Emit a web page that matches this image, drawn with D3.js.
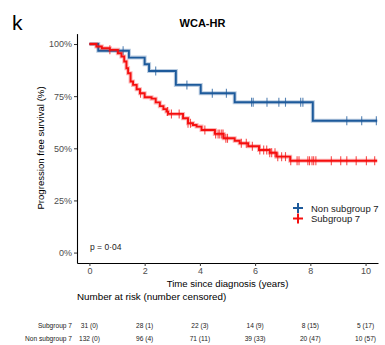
<!DOCTYPE html>
<html>
<head>
<meta charset="utf-8">
<script src="https://cdn.jsdelivr.net/npm/d3@7"></script>
<style>
  body { margin: 0; background: #fff; }
  svg { font-family: "Liberation Sans", Arial, sans-serif; }
</style>
</head>
<body>
<div id="chart"></div>
<script>
// Kaplan-Meier curves (time in years, survival fraction)
const nonSubTimes = [0, 0.32, 1.43, 2.0, 2.16, 3.13, 4.03, 5.26, 8.09];
const nonSubSurv  = [1, 0.968, 0.935, 0.903, 0.871, 0.804, 0.764, 0.721, 0.632];
const nonSubCensor = [1.22, 2.4, 3.53, 4.45, 4.96, 5.87, 5.93, 6.43, 6.86, 7.1, 7.65, 7.73, 9.32, 9.86, 10.39];

const subTimes = [0, 0.25, 0.45, 0.74, 1.03, 1.16, 1.26, 1.34, 1.40, 1.49, 1.58, 1.71, 1.83, 2.0, 2.25, 2.4,
  2.55, 2.68, 2.79, 2.85, 3.39, 3.57, 3.75, 3.88, 4.06, 4.54, 4.86, 5.26, 5.44, 5.75, 6.14, 6.53, 6.77, 7.27];
const subSurv = [1, 0.988, 0.98, 0.972, 0.956, 0.94, 0.916, 0.884, 0.86, 0.82, 0.804, 0.783, 0.764, 0.745, 0.738, 0.72,
  0.702, 0.688, 0.676, 0.665, 0.644, 0.62, 0.612, 0.604, 0.588, 0.569, 0.548, 0.536, 0.524, 0.51, 0.492, 0.479, 0.46, 0.44];
const subCensor = [0.74, 1.85, 2.83, 2.97, 3.25, 3.57, 3.66, 4.18, 4.57, 4.66, 4.72, 4.79, 4.84, 4.94, 5.0,
  5.5, 5.68, 5.9, 6.17, 6.31, 6.42, 6.53, 6.6, 6.72, 6.82, 6.96, 7.1,
  7.29, 7.52, 7.59, 7.91, 7.97, 8.06, 8.12, 8.20, 8.76, 9.10, 9.32, 9.66, 10.03, 10.33];

const endTime = 10.42;

const xTicks = [0, 2, 4, 6, 8, 10];
const yTicks = [0, 0.25, 0.5, 0.75, 1];

const riskGroups = ["Subgroup 7", "Non subgroup 7"];
const riskSub = ["31 (0)", "28 (1)", "22 (3)", "14 (9)", "8 (15)", "5 (17)"];
const riskNonSub = ["132 (0)", "96 (4)", "71 (11)", "39 (33)", "20 (47)", "10 (57)"];

const legendLabels = ["Non subgroup 7", "Subgroup 7"];
const blue = "#1d5a9b", red = "#f50f0f";

const width = 385, height = 345;
const svg = d3.select("#chart").append("svg")
    .attr("width", width).attr("height", height);

const x = d3.scaleLinear().domain([-0.45, 10.45]).range([77, 378]);
const y = d3.scaleLinear().domain([-0.05, 1.05]).range([263, 33.6]);

// panel label and title
svg.append("text").attr("x", 12).attr("y", 30).attr("font-size", 21).attr("fill", "#000").text("k");
svg.append("text").attr("x", 202.5).attr("y", 27).attr("text-anchor", "middle")
    .attr("font-size", 11).attr("font-weight", "bold").text("WCA-HR");

// axes
const xAxis = svg.append("g").attr("transform", "translate(0,263)")
    .call(d3.axisBottom(x).tickValues(xTicks).tickSize(3).tickSizeOuter(0).tickPadding(2));
const yAxis = svg.append("g").attr("transform", "translate(77,0)")
    .call(d3.axisLeft(y).tickValues(yTicks).tickFormat(d3.format(".0%")).tickSize(3).tickSizeOuter(0).tickPadding(2));
[xAxis, yAxis].forEach(g => {
  g.select(".domain").attr("stroke", "#000").attr("stroke-width", 1.1);
  g.selectAll(".tick line").attr("stroke", "#333");
  g.selectAll(".tick text").attr("fill", "#4d4d4d").attr("font-size", 9)
      .attr("font-family", "Liberation Sans, Arial, sans-serif");
});

svg.append("text").attr("x", 227.5).attr("y", 287).attr("text-anchor", "middle")
    .attr("font-size", 9.6).text("Time since diagnosis (years)");
svg.append("text").attr("transform", "translate(44,148) rotate(-90)").attr("text-anchor", "middle")
    .attr("font-size", 9.6).text("Progression free survival (%)");

// curves
const line = d3.line().x(d => x(d[0])).y(d => y(d[1])).curve(d3.curveStepAfter);

function drawCurve(times, surv, censor, color) {
  const pts = times.map((t, i) => [t, surv[i]]);
  pts.push([endTime, surv[surv.length - 1]]);
  svg.append("path").datum(pts).attr("fill", "none").attr("stroke", color)
      .attr("stroke-opacity", 0.3).attr("stroke-width", 4).attr("d", line);
  svg.append("path").datum(pts).attr("fill", "none").attr("stroke", color)
      .attr("stroke-width", 1.9).attr("d", line);
  svg.append("g").selectAll("line").data(censor).join("line")
      .attr("x1", d => x(d)).attr("x2", d => x(d))
      .attr("y1", d => y(surv[d3.bisectRight(times, d) - 1]) - 4.5)
      .attr("y2", d => y(surv[d3.bisectRight(times, d) - 1]) + 4.5)
      .attr("stroke", color).attr("stroke-opacity", 0.75).attr("stroke-width", 1.1);
}
drawCurve(nonSubTimes, nonSubSurv, nonSubCensor, blue);
drawCurve(subTimes, subSurv, subCensor, red);

// p value
svg.append("text").attr("x", 90).attr("y", 250).attr("font-size", 8.5).attr("fill", "#222").text("p = 0\u00b704");

// legend
const legend = svg.append("g").selectAll("g").data(legendLabels).join("g")
    .attr("transform", (d, i) => `translate(298,${208 + i * 10.5})`);
legend.append("line").attr("x1", -5).attr("x2", 5).attr("stroke", (d, i) => i ? red : blue).attr("stroke-width", 2);
legend.append("line").attr("y1", -5).attr("y2", 5).attr("stroke", (d, i) => i ? red : blue).attr("stroke-width", 2);
legend.append("text").attr("x", 13).attr("y", 3.5).attr("font-size", 9.5).attr("fill", "#1a1a1a").text(d => d);

// number at risk table
svg.append("text").attr("x", 77).attr("y", 300).attr("font-size", 9.8).text("Number at risk (number censored)");
[riskSub, riskNonSub].forEach((row, i) => {
  const yy = 327.5 + i * 13.5;
  svg.append("text").attr("x", 72).attr("y", yy).attr("text-anchor", "end")
      .attr("font-size", 6.6).attr("fill", "#222").text(riskGroups[i]);
  svg.append("g").selectAll("text").data(row).join("text")
      .attr("x", (d, j) => x(xTicks[j])).attr("y", yy).attr("text-anchor", "middle")
      .attr("font-size", 6.6).attr("fill", "#222").text(d => d);
});
</script>
</body>
</html>
